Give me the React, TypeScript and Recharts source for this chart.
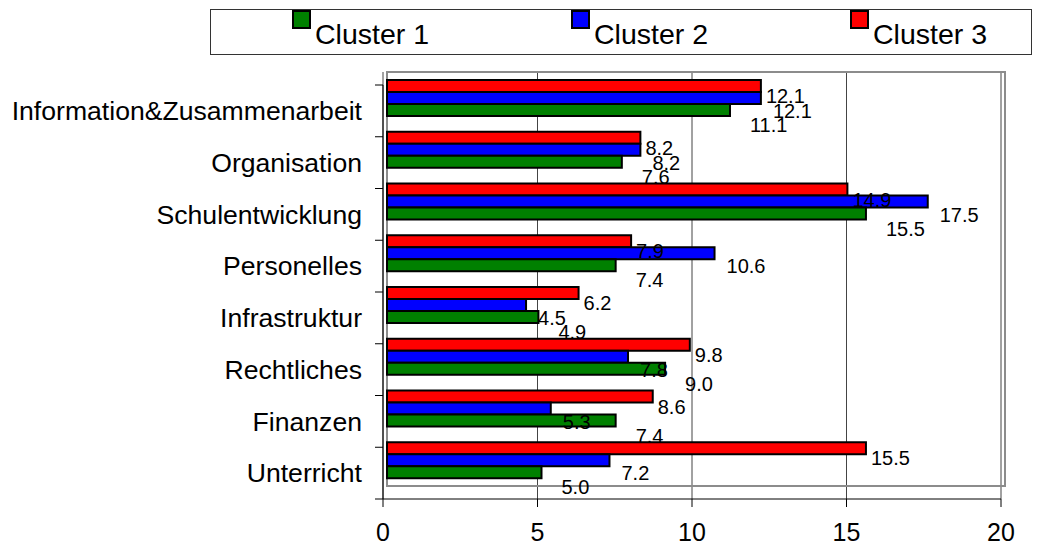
import React from "react";
import {
  BarChart,
  Bar,
  XAxis,
  YAxis,
  CartesianGrid,
  LabelList,
  Legend,
  ReferenceArea,
} from "recharts";

// Kategorien von oben nach unten
const categories = [
  "Information&Zusammenarbeit",
  "Organisation",
  "Schulentwicklung",
  "Personelles",
  "Infrastruktur",
  "Rechtliches",
  "Finanzen",
  "Unterricht",
];

const cluster1 = [11.1, 7.6, 15.5, 7.4, 4.9, 9.0, 7.4, 5.0];
const cluster2 = [12.1, 8.2, 17.5, 10.6, 4.5, 7.8, 5.3, 7.2];
const cluster3 = [12.1, 8.2, 14.9, 7.9, 6.2, 9.8, 8.6, 15.5];

const seriesNames = ["Cluster 1", "Cluster 2", "Cluster 3"];
const xTicks = [0, 5, 10, 15, 20];

const data = categories.map((name, i) => ({
  name,
  c1: cluster1[i],
  c2: cluster2[i],
  c3: cluster3[i],
}));

const W = 1046;
const H = 549;
const FONT = "'Liberation Sans', Arial, sans-serif";

// axis chart plot area: x 383..1001, y 85..499
const AXIS_MARGIN = { top: 85, right: 45, bottom: 0, left: 0 };
const Y_AXIS_W = 383;
const X_AXIS_H = 50;
const BAND = (H - AXIS_MARGIN.top - X_AXIS_H) / categories.length;

// bars are drawn a little shifted (like the Excel original)
const BAR_MARGIN = { top: 72, right: 41, bottom: 63, left: 387 };

const COLORS: Record<string, string> = {
  "Cluster 1": "#008000",
  "Cluster 2": "#0000FF",
  "Cluster 3": "#FF0000",
};

function CategoryTick(props: any) {
  const { x, y, payload, index } = props;
  const axisX = Y_AXIS_W;
  const half = BAND / 2;
  return (
    <g>
      <line x1={axisX - 8} x2={axisX} y1={y - half} y2={y - half} stroke="#000" />
      {index === categories.length - 1 && (
        <line x1={axisX - 8} x2={axisX} y1={y + half} y2={y + half} stroke="#000" />
      )}
      <text
        x={x}
        y={y}
        dy="0.35em"
        textAnchor="end"
        fontSize={26.6}
        fontFamily={FONT}
        fill="#000"
      >
        {payload.value}
      </text>
    </g>
  );
}

// value label next to the bar end, pushed down a bit like in the original
function makeValueLabel(dx: number, dy: number) {
  return (props: any) => {
    const { x, y, width, height, value } = props;
    return (
      <text
        x={x + width + dx}
        y={y + height / 2 + dy}
        dy="0.35em"
        fontSize={20}
        fontFamily={FONT}
        fill="#000"
      >
        {Number(value).toFixed(1)}
      </text>
    );
  };
}

function LegendBox(props: any) {
  const items = [...(props.payload || [])].sort(
    (a: any, b: any) => seriesNames.indexOf(a.value) - seriesNames.indexOf(b.value)
  );
  return (
    <div
      style={{
        position: "relative",
        width: 822,
        height: 46,
        boxSizing: "border-box",
        border: "1px solid #333",
        background: "#fff",
        fontFamily: FONT,
      }}
    >
      {items.map((it: any, i: number) => (
        <div key={it.value} style={{ position: "absolute", left: 81 + i * 279, top: 0 }}>
          <div
            style={{
              position: "absolute",
              left: 0,
              top: 0,
              width: 19,
              height: 19,
              boxSizing: "border-box",
              border: "2px solid #000",
              background: COLORS[it.value],
            }}
          />
          <span
            style={{
              position: "absolute",
              left: 23,
              top: 10,
              fontSize: 28.5,
              lineHeight: "28px",
              whiteSpace: "nowrap",
              color: "#000",
            }}
          >
            {it.value}
          </span>
        </div>
      ))}
    </div>
  );
}

export default function App() {
  return (
    <div
      style={{
        position: "absolute",
        left: 0,
        top: 0,
        width: W,
        height: H,
        background: "#fff",
        fontFamily: FONT,
      }}
    >
      {/* axes, tick labels and grid */}
      <div style={{ position: "absolute", left: 0, top: 0 }}>
        <BarChart width={W} height={H} data={data} layout="vertical" margin={AXIS_MARGIN}>
          <CartesianGrid horizontal={false} stroke="#444" y={72} height={427} />
          <XAxis
            type="number"
            domain={[0, 20]}
            allowDataOverflow
            ticks={xTicks}
            height={X_AXIS_H}
            tickSize={8}
            tickMargin={16}
            axisLine={{ stroke: "#000" }}
            tickLine={{ stroke: "#000" }}
            tick={{ fontSize: 25, fill: "#000", fontFamily: FONT }}
            interval={0}
          />
          <YAxis
            type="category"
            dataKey="name"
            width={Y_AXIS_W}
            axisLine={{ stroke: "#000" }}
            tickLine={false}
            tickSize={6}
            tickMargin={15}
            interval={0}
            tick={<CategoryTick />}
          />
        </BarChart>
      </div>

      {/* bars, frame, value labels, legend */}
      <div style={{ position: "absolute", left: 0, top: 0 }}>
        <BarChart
          width={W}
          height={H}
          data={data}
          layout="vertical"
          margin={BAR_MARGIN}
          barSize={12}
          barGap={0}
        >
          <XAxis type="number" domain={[0, 20]} hide />
          <YAxis type="category" dataKey="name" hide />
          <ReferenceArea x1={0} x2={20} fill="none" stroke="#8c8c8c" strokeWidth={2} />
          <Legend
            layout="horizontal"
            verticalAlign="middle"
            align="center"
            content={<LegendBox />}
            wrapperStyle={{ position: "absolute", left: 210, top: 9, width: 822, height: 46 }}
          />
          <Bar dataKey="c3" name="Cluster 3" fill={COLORS["Cluster 3"]} stroke="#000" strokeWidth={2} isAnimationActive={false}>
            <LabelList dataKey="c3" content={makeValueLabel(5, 10)} />
          </Bar>
          <Bar dataKey="c2" name="Cluster 2" fill={COLORS["Cluster 2"]} stroke="#000" strokeWidth={2} isAnimationActive={false}>
            <LabelList dataKey="c2" content={makeValueLabel(12, 13)} />
          </Bar>
          <Bar dataKey="c1" name="Cluster 1" fill={COLORS["Cluster 1"]} stroke="#000" strokeWidth={2} isAnimationActive={false}>
            <LabelList dataKey="c1" content={makeValueLabel(20, 15)} />
          </Bar>
        </BarChart>
      </div>
    </div>
  );
}
